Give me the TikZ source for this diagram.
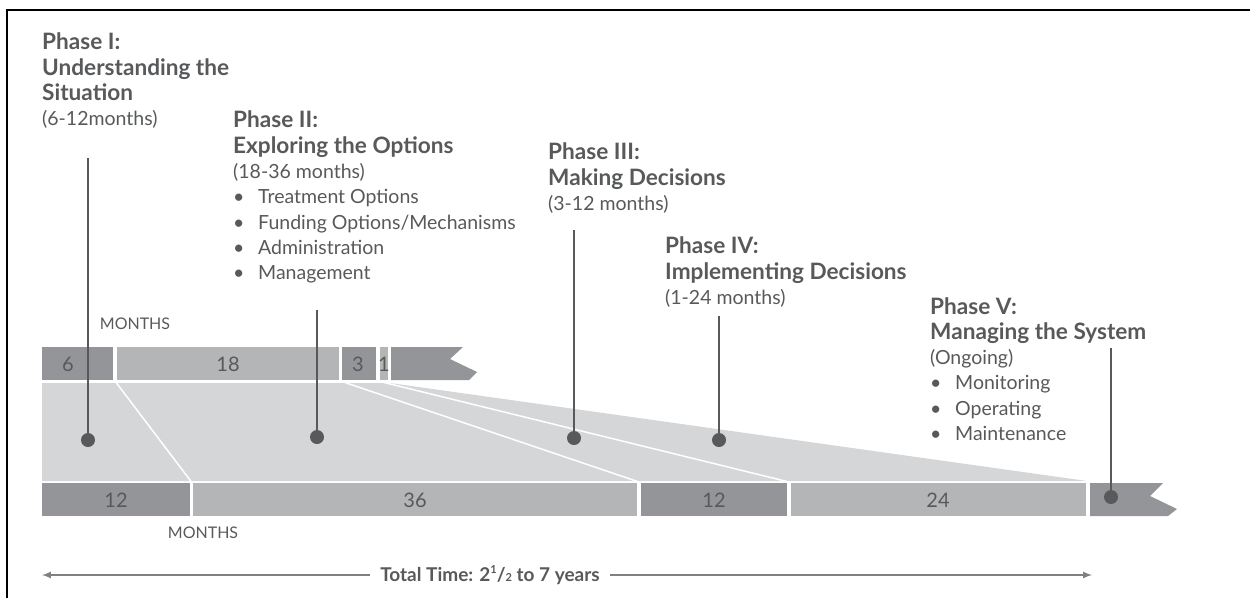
\documentclass[tikz,border=0pt]{standalone}
\usepackage{fontspec}
\setmainfont{Lato}
\usetikzlibrary{positioning}

\definecolor{inkgray}{HTML}{58595B}
\definecolor{bardark}{HTML}{939598}
\definecolor{barlight}{HTML}{B4B5B7}
\definecolor{fanfill}{HTML}{D5D6D8}

\newcommand{\headline}[1]{{\fontsize{22.6}{25.3}\selectfont\bfseries #1}}
\newcommand{\bitem}[1]{\makebox[25pt][l]{\textbullet}#1}
\newcommand{\smallfig}[1]{{\fontsize{11}{11}\selectfont #1}}

\begin{document}
\begin{tikzpicture}[x=1pt, y=-1pt,
        phase/.style={anchor=north west, align=left, inner sep=0pt, text=inkgray, font=\fontsize{19.5}{25.3}\selectfont},
        num/.style={text=inkgray, font=\fontsize{20}{20}\selectfont, inner sep=0pt},
        unit/.style={text=inkgray, font=\fontsize{16}{16}\selectfont, inner sep=0pt},
        pin/.style={line width=1.5pt, draw=inkgray},
        dot/.style={circle, fill=inkgray, minimum size=14pt, inner sep=0pt},
        gap/.style={draw=white, line width=1.5pt}
    ]
    \useasboundingbox (0,0) rectangle (1250,598);

    % frame
    \draw[line width=1.5pt] (7,598) -- (7,10) -- (1250,10);

    % Upper bar - phase lengths, short case
    \fill[bardark] (42,347) rectangle (113,380);
    \fill[barlight] (117,347) rectangle (339,380);
    \fill[bardark] (342,347) rectangle (376,380);
    \fill[barlight] (380,347) rectangle (388,380);
    \fill[bardark] (391,347) -- (463,347) -- (450,359) -- (477,372) -- (469,380) -- (391,380) -- cycle;
    \node[num] (u6) at (68,364) {6};
    \node[num] (u18) at (228,364) {18};
    \node[num] (u3) at (358,364) {3};
    \node[num] (u1) at (384,364) {1};
    \node[unit] (umonths) at (135,324) {MONTHS};

    % fan between the two bars
    \fill[fanfill] (42,383) -- (390,383) -- (1087,481) -- (42,481) -- cycle;
    \draw[gap] (115,381) -- (191.5,482);
    \draw[gap] (340.5,381) -- (639,482);
    \draw[gap] (378,381) -- (789,482);

    % Lower bar - phase lengths, long case
    \fill[bardark] (42,483) rectangle (190,516);
    \fill[barlight] (193,483) rectangle (637,516);
    \fill[bardark] (641,483) rectangle (787,516);
    \fill[barlight] (791,483) rectangle (1086,516);
    \fill[bardark] (1090,483) -- (1163,483) -- (1150,496) -- (1177,509) -- (1168,516) -- (1090,516) -- cycle;
    \node[num] (l12a) at (116,500) {12};
    \node[num] (l36) at (415,500) {36};
    \node[num] (l12b) at (714,500) {12};
    \node[num] (l24) at (938,500) {24};
    \node[unit] (lmonths) at (203,533) {MONTHS};

    % phase labels
    \node[phase] (phI) at (42,33) {\headline{Phase I:}\\ \headline{Understanding the}\\ \headline{Situation}\\ (6-12months)};
    \node[phase] (phII) at (233,111) {\headline{Phase II:}\\ \headline{Exploring the Options}\\ (18-36 months)\\
        \bitem{Treatment Options}\\ \bitem{Funding Options/Mechanisms}\\ \bitem{Administration}\\ \bitem{Management}};
    \node[phase] (phIII) at (548,143) {\headline{Phase III:}\\ \headline{Making Decisions}\\ (3-12 months)};
    \node[phase] (phIV) at (665,237) {\headline{Phase IV:}\\ \headline{Implementing Decisions}\\ (1-24 months)};
    \node[phase] (phV) at (930,297) {\headline{Phase V:}\\ \headline{Managing the System}\\ (Ongoing)\\
        \bitem{Monitoring}\\ \bitem{Operating}\\ \bitem{Maintenance}};

    % pins down to the bars
    \coordinate (pinI) at (88,158);
    \coordinate (pinII) at (317,310);
    \coordinate (pinIII) at (574,230);
    \coordinate (pinIV) at (719,316);
    \coordinate (pinV) at (1111,348);
    \node[dot] (dotI) at (88,440) {};
    \node[dot] (dotII) at (317,437) {};
    \node[dot] (dotIII) at (574,438) {};
    \node[dot] (dotIV) at (719,440) {};
    \node[dot] (dotV) at (1111,497) {};
    \draw[pin] (pinI) -- (dotI);
    \draw[pin] (pinII) -- (dotII);
    \draw[pin] (pinIII) -- (dotIII);
    \draw[pin] (pinIV) -- (dotIV);
    \draw[pin] (pinV) -- (dotV);

    % total time
    \coordinate (tl) at (42,575);
    \coordinate (tr) at (1092,575);
    \draw[latex-latex, line width=2pt, draw=gray] (tl) -- (tr);
    \node[fill=white, inner xsep=10pt, text=inkgray, font=\fontsize{19}{19}\selectfont\bfseries] (total) at (490,575)
        {Total Time: 2\raisebox{0.45em}{\smallfig{1}}/\smallfig{2} to 7 years};
\end{tikzpicture}
\end{document}
